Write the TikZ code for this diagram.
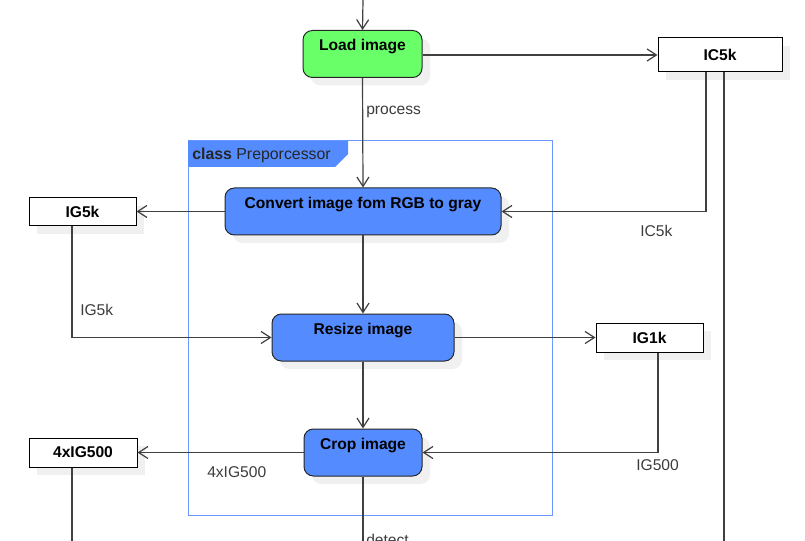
\documentclass[tikz,border=0pt]{standalone}
\usepackage{fontspec}
\setmainfont{Liberation Sans}
\usetikzlibrary{arrows.meta,shadows}
\definecolor{actgreen}{RGB}{104,255,104}
\definecolor{actblue}{RGB}{84,139,255}
\definecolor{frameblue}{RGB}{106,152,255}
\definecolor{linegray}{RGB}{64,64,64}
\definecolor{labelgray}{RGB}{60,60,60}

\begin{document}
\begin{tikzpicture}[x=0.75pt,y=-0.75pt,
		>={Straight Barb[length=7pt,width=9pt]},
		action/.style={draw=black!85,line width=0.75pt,rounded corners=7pt,
			inner sep=0pt,text height=15.3pt,text depth=19.95pt,
			font=\bfseries\fontsize{11.7}{14}\selectfont,
			drop shadow={shadow xshift=6pt,shadow yshift=-6pt,fill=black!6,opacity=1}},
		buffer/.style={draw=black,line width=0.75pt,inner sep=0pt,
			font=\bfseries\fontsize{11.7}{14}\selectfont,
			drop shadow={shadow xshift=6pt,shadow yshift=-6pt,fill=black!6,opacity=1}},
		flow/.style={->,draw=linegray,line width=0.9pt},
		wire/.style={draw=linegray,line width=0.9pt},
		lbl/.style={anchor=west,inner sep=0pt,text height=8.4pt,text depth=0pt,
			text=labelgray,font=\fontsize{11.7}{14}\selectfont}]
		\useasboundingbox (0,0) rectangle (805,541);
		
		\draw[frameblue,line width=0.75pt] (188,141) rectangle (552,515);
		\fill[actblue] (188,141) -- (348,141) -- (348,154) -- (335,167) -- (188,167) -- cycle;
		\node[lbl,text=black!85,font=\fontsize{11.9}{14}\selectfont] (frametitle) at (192,154) {\textbf{class} Preporcessor};
		
		\coordinate (start) at (363,0);
		\coordinate (icend) at (724,541);
		\coordinate (igend) at (72,541);
		\coordinate (detend) at (363,541);
		
		\node[action,fill=actgreen,minimum width=89.25pt] (load) at (362.5,54) {Load image};
		\node[action,fill=actblue,minimum width=207pt] (convert) at (363,211.5) {Convert image fom RGB to gray};
		\node[action,fill=actblue,minimum width=136.5pt] (resize) at (363,337.5) {Resize image};
		\node[action,fill=actblue,minimum width=88.5pt] (crop) at (363,452.5) {Crop image};
		
		\node[buffer,fill=white,minimum width=93pt,minimum height=25.5pt] (ic5k) at (720,55) {IC5k};
		\node[buffer,fill=white,minimum width=80.25pt,minimum height=21pt] (ig5k) at (82.5,212) {IG5k};
		\node[buffer,fill=white,minimum width=80.25pt,minimum height=21.75pt] (ig1k) at (649.5,337.5) {IG1k};
		\node[buffer,fill=white,minimum width=81pt,minimum height=21.75pt] (ig500) at (83,452.5) {4xIG500};
		
		\draw[flow] (start) -- (load.north);
		\draw[flow] (load.east |- ic5k.west) -- (ic5k.west);
		\draw[flow] (load.south) -- (convert.north);
		\draw[flow] ([xshift=-10.5pt]ic5k.south) |- (convert.east);
		\draw[wire] ([xshift=3pt]ic5k.south) -- (icend);
		\draw[flow] (convert.west) -- (convert.west -| ig5k.east);
		\draw[flow] (convert.south) -- (resize.north);
		\draw[flow] ([xshift=-7.875pt]ig5k.south) |- (resize.west);
		\draw[flow] (resize.east) -- (ig1k.west);
		\draw[flow] (resize.south) -- (crop.north);
		\draw[flow] ([xshift=6.375pt]ig1k.south) |- (crop.east);
		\draw[flow] (crop.west) -- (crop.west -| ig500.east);
		\draw[wire] ([xshift=-8.25pt]ig500.south) -- (igend);
		\draw[wire] (crop.south) -- (detend);
		
		\node[lbl] (lprocess) at (366,109) {process};
		\node[lbl] (lic5k) at (640,231) {IC5k};
		\node[lbl] (lig5k) at (80,310) {IG5k};
		\node[lbl] (lig500) at (636,465) {IG500};
		\node[lbl] (l4xig500) at (207,472) {4xIG500};
		\node[lbl,anchor=north west] (ldetect) at (366,534) {detect};
\end{tikzpicture}
\end{document}
